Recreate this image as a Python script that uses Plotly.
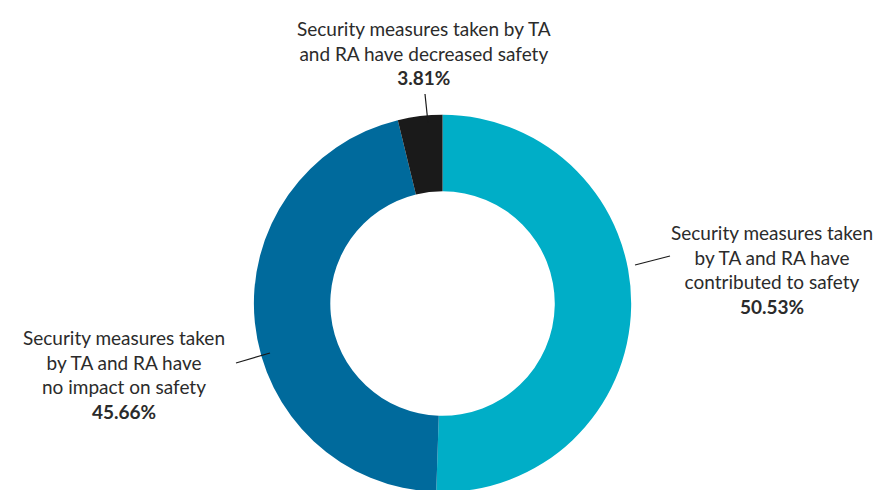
import plotly.graph_objects as go

labels = [
    "Security measures taken by TA and RA have contributed to safety",
    "Security measures taken by TA and RA have no impact on safety",
    "Security measures taken by TA and RA have decreased safety",
]
values = [50.53, 45.66, 3.81]
colors = ["#00AEC7", "#006A9C", "#1A1A1A"]

W, H = 885, 490

def px(x, y):
    return x / W, 1 - y / H

fig = go.Figure(go.Pie(
    labels=labels, values=values, sort=False, direction="clockwise", rotation=0,
    hole=0.595, marker=dict(colors=colors, line=dict(width=0)),
    textinfo="none", hoverinfo="label+percent", showlegend=False,
    domain=dict(x=[0.191, 0.791], y=[0.012, 0.782]),
))

label_text = [
    ("Security measures taken<br>by TA and RA have<br>contributed to safety<br><b>%.2f%%</b>" % values[0], 764, 261),
    ("Security measures taken<br>by TA and RA have<br>no impact on safety<br><b>%.2f%%</b>" % values[1], 116, 366),
    ("Security measures taken by TA<br>and RA have decreased safety<br><b>%.2f%%</b>" % values[2], 416, 45),
]
for t, x, y in label_text:
    xx, yy = px(x, y)
    fig.add_annotation(text=t, x=xx, y=yy, xref="paper", yref="paper",
                       showarrow=False, align="center", xanchor="center", yanchor="middle",
                       font=dict(size=19, color="#2B2B2B", family="Lato"))

lines = [((627, 257), (662, 248)), ((228, 355), (262, 345)), ((417, 86), (420, 115))]
for (x0, y0), (x1, y1) in lines:
    a, b = px(x0, y0)
    c, d = px(x1, y1)
    fig.add_shape(type="line", x0=a, y0=b, x1=c, y1=d, xref="paper", yref="paper",
                  line=dict(color="#1A1A1A", width=1.2))

fig.update_layout(width=W, height=H, margin=dict(l=0, r=0, t=0, b=0),
                  paper_bgcolor="white", plot_bgcolor="white")
fig.write_html("out.html")
